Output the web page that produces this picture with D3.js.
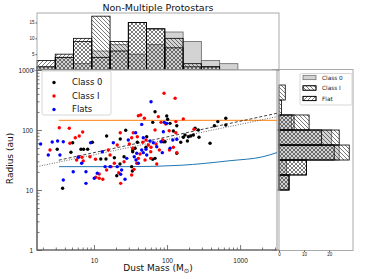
<!DOCTYPE html>
<html>
<head>
<meta charset="utf-8">
<script src="https://cdn.jsdelivr.net/npm/d3@7"></script>
<style>
  body { margin: 0; background: #fff; }
  svg { display: block; font-family: "DejaVu Sans", sans-serif; }
</style>
</head>
<body>
<div id="chart"></div>
<script>
// scatter points: [dust mass (Msun), radius (au)]
const class0Points = [[3.14,47.7],[4.84,42.5],[6.64,47.7],[7.22,47.7],[8.2,47.7],[5.11,61.4],[9.5,62.4],[14.9,79.4],[27.2,98.9],[22.9,70.8],[20.5,17.3],[14.6,32.9],[12.4,32.9],[19.0,34.5],[33.9,46.4],[36.5,49.5],[25.8,35.9],[22.7,27.1],[32.8,24.5],[3.72,10.7],[33.5,20.7],[68.5,202],[99,171],[63.7,134],[110,129],[136,118],[102,151],[242,107],[268,100],[176,82.5],[196,77.3],[211,79.4],[229,82.5],[274,75.5],[167,75.5],[190,65.6],[154,62.4],[122,96.2],[445,118],[495,138],[637,157],[637,121],[388,60],[89,63.8],[94,63.8],[51.5,51.5],[136,40.9],[68.5,33.7],[63.7,32.5],[33.9,43.5],[52.7,77.3],[39.2,62.4]];
const class1Points = [[3.35,109],[2.5,46.4],[4.69,60],[5.55,74.4],[6.29,79.4],[6.85,35.1],[5.79,31.6],[6.17,35.9],[7.13,30.4],[8.81,35.9],[10.5,32.5],[10.6,16.3],[11.8,15.7],[15.7,46.4],[16.6,38.3],[20.8,56.2],[22.9,90.2],[32.8,74.4],[30.5,58.4],[25.8,29.6],[21.8,19.4],[19.0,27.9],[17.1,24.5],[4.59,107],[7.0,92.6],[40.5,173],[38.5,27.9],[32.8,17.8],[35.3,22.1],[11.8,18.5],[13.2,15.1],[14.9,21.5],[23.2,12.9],[91,409],[129,338],[43.6,178],[48.9,157],[76,167],[82.8,134],[96,126],[132,138],[167,153],[234,103],[68.5,100],[107,97.3],[132,90.2],[34.5,90.2],[39.2,77.3],[46.5,62.4],[51.5,68.1],[55.5,56.2],[60.4,51.5],[70.7,58.4],[78.5,46.4],[108,46.4],[122,51.5],[136,41.9],[33.9,49.5],[50,31.6],[59.8,33.7],[72.3,27.1],[40.5,33.7],[87.3,68.1],[59.8,43.5],[42.7,39.8]];
const flatPoints = [[1.86,58.4],[2.68,63.1],[3.18,65.6],[3.8,63.8],[3.42,38.3],[2.37,38.3],[6.1,35.1],[9.0,61.4],[13.0,43.5],[14.2,24.5],[18.4,61.4],[16.6,24.5],[23.9,21.5],[28.1,33.7],[29.5,68.1],[38.5,40.9],[20.8,24.5],[11.1,19],[6.78,27.9],[3.8,14.7],[5.2,20.2],[7.77,20.2],[7.77,12.9],[10.1,15.7],[23.2,18.3],[26.6,15.1],[60.4,296],[45,124],[91.8,134],[99,129],[37.2,90.2],[89,93.7],[136,70],[47.3,74.4],[58.5,65.6],[64.9,61.4],[82.8,63.8],[120,68.1],[45,46.4],[47.3,41.9],[51.5,47.7],[35.6,35.9],[37.6,31.6],[40.5,27.9],[86.2,41.9],[110,49.5],[72.3,52.7],[52.7,38.3]];

// model / fit lines: [mass, radius]
const orangeLine = [[3.3,145],[3200,145]];
const blueCurve = [[3.32,24.5],[31,24.5],[151,25.8],[730,30.8],[2065,35.9],[3200,42]];
const dottedFit = [[1.66,24.5],[3200,167]];
const dashedFit = [[3.3,31.4],[3200,190]];

// top histogram (dust mass)
const massEdges = [1.66, 2.95, 5.25, 9.33, 16.6, 29.5, 52.5, 93.3, 166, 295, 525, 933];
const class0Mass = [1, 4, 2, 6, 8, 5, 8, 12, 9, 3, 2];
const class1Mass = [1, 4, 9, 17, 9, 15, 13, 10, 2, 1, 0];
const flatMass = [3, 5, 10, 4, 6, 15, 13, 7, 1, 1, 0];

// right histogram (radius)
const radiusEdges = [10, 17.8, 31.6, 56.2, 100, 178, 316, 562];
const class0Radius = [4, 3, 24, 21, 5, 0, 0];
const class1Radius = [4, 11, 28, 24, 12, 1, 2.5];
const flatRadius = [4, 11, 22, 17, 6, 0, 0];

const yMajor = [1, 10, 100, 1000];
const xMajor = [10, 100, 1000];
const topTicks = [0, 5, 10, 15];
const rightTicks = [0, 10, 20];

const W = 372, H = 279;
const svg = d3.select("#chart").append("svg").attr("width", W).attr("height", H);

const x = d3.scaleLog().domain([1.66, 3200]).range([37, 277]);
const y = d3.scaleLog().domain([1, 1000]).range([250, 70]);
const yTop = d3.scaleLinear().domain([0, 18]).range([70, 13]);
const xRight = d3.scaleLinear().domain([0, 29.5]).range([279, 353]);

// hatch patterns
const defs = svg.append("defs");
function hatch(id, d) {
  const p = defs.append("pattern").attr("id", id).attr("patternUnits", "userSpaceOnUse")
    .attr("width", 4).attr("height", 4);
  p.append("path").attr("d", d).attr("stroke", "#222").attr("stroke-width", 0.6).attr("fill", "none");
}
hatch("back", "M0,0L4,4M-1,3L1,5M3,-1L5,1");
hatch("fwd", "M0,4L4,0M-1,1L1,-1M3,5L5,3");
defs.append("clipPath").attr("id", "mainclip").append("rect")
  .attr("x", 37).attr("y", 70).attr("width", 240).attr("height", 180);

const styles = [
  { fill: "#d3d3d3", stroke: "#666" },
  { fill: "url(#back)", stroke: "#000" },
  { fill: "url(#fwd)", stroke: "#000" }
];

// ---- top histogram
const topG = svg.append("g");
[class0Mass, class1Mass, flatMass].forEach((counts, k) => {
  topG.append("g").selectAll("rect")
    .data(counts.map((c, i) => ({ c, i })).filter(d => d.c > 0))
    .join("rect")
    .attr("x", d => x(massEdges[d.i]))
    .attr("width", d => x(massEdges[d.i + 1]) - x(massEdges[d.i]))
    .attr("y", d => yTop(d.c))
    .attr("height", d => yTop(0) - yTop(d.c))
    .attr("fill", styles[k].fill)
    .attr("stroke", styles[k].stroke)
    .attr("stroke-width", 0.8);
});
topG.append("rect").attr("x", 37).attr("y", 13).attr("width", 242).attr("height", 57)
  .attr("fill", "none").attr("stroke", "#aaa").attr("stroke-width", 1);
const topAxis = topG.append("g").attr("transform", "translate(37,0)")
  .call(d3.axisLeft(yTop).tickValues(topTicks).tickSize(1.5).tickPadding(1));
topAxis.select(".domain").remove();
topAxis.selectAll("text").style("font-size", "4.5px").attr("fill", "#222");
topAxis.selectAll("line").attr("stroke", "#555");
topG.append("g").selectAll("line").data(xMajor).join("line")
  .attr("x1", d => x(d)).attr("x2", d => x(d)).attr("y1", 70).attr("y2", 76)
  .attr("stroke", "#555").attr("stroke-width", 0.8);

svg.append("text").attr("x", 158).attr("y", 11).attr("text-anchor", "middle")
  .style("font-size", "9.5px").attr("fill", "#111").text("Non-Multiple Protostars");

// ---- right histogram
const rightG = svg.append("g");
[class0Radius, class1Radius, flatRadius].forEach((counts, k) => {
  rightG.append("g").selectAll("rect")
    .data(counts.map((c, i) => ({ c, i })).filter(d => d.c > 0))
    .join("rect")
    .attr("x", xRight(0))
    .attr("width", d => xRight(d.c) - xRight(0))
    .attr("y", d => y(radiusEdges[d.i + 1]))
    .attr("height", d => y(radiusEdges[d.i]) - y(radiusEdges[d.i + 1]))
    .attr("fill", styles[k].fill)
    .attr("stroke", styles[k].stroke)
    .attr("stroke-width", 0.8);
});
rightG.append("rect").attr("x", 279).attr("y", 69.5).attr("width", 74).attr("height", 181)
  .attr("fill", "none").attr("stroke", "#aaa").attr("stroke-width", 1);
const rAxis = rightG.append("g").attr("transform", "translate(0,250.5)")
  .call(d3.axisBottom(xRight).tickValues(rightTicks).tickSize(1.5).tickPadding(1));
rAxis.select(".domain").remove();
rAxis.selectAll("text").style("font-size", "4.5px").attr("fill", "#222");
rAxis.selectAll("line").attr("stroke", "#555");
rightG.append("g").selectAll("line").data(yMajor).join("line")
  .attr("x1", 272).attr("x2", 279).attr("y1", d => y(d)).attr("y2", d => y(d))
  .attr("stroke", "#555").attr("stroke-width", 0.8);

// right legend
const rl = svg.append("g");
rl.append("rect").attr("x", 300).attr("y", 73.5).attr("width", 52).attr("height", 31.5)
  .attr("fill", "#fff").attr("stroke", "#ccc").attr("stroke-width", 0.8).attr("rx", 1.5);
["Class 0", "Class I", "Flat"].forEach((name, k) => {
  const cy = 77.5 + k * 10.5;
  rl.append("rect").attr("x", 303).attr("y", cy - 2.2).attr("width", 13).attr("height", 4.4)
    .attr("fill", k === 0 ? styles[0].fill : "#fff").attr("stroke", styles[k].stroke).attr("stroke-width", 0.7);
  if (k > 0) rl.append("rect").attr("x", 303).attr("y", cy - 2.2).attr("width", 13).attr("height", 4.4)
    .attr("fill", styles[k].fill).attr("stroke", "#000").attr("stroke-width", 0.7);
  rl.append("text").attr("x", 322).attr("y", cy).attr("dy", "0.35em")
    .style("font-size", "5.8px").attr("fill", "#222").text(name);
});

// ---- main scatter
const main = svg.append("g");
main.append("rect").attr("x", 37).attr("y", 70).attr("width", 240).attr("height", 180)
  .attr("fill", "#fff").attr("stroke", "#999").attr("stroke-width", 1);

const plot = main.append("g").attr("clip-path", "url(#mainclip)");
const line = d3.line().x(d => x(d[0])).y(d => y(d[1]));
plot.append("path").datum(orangeLine).attr("d", line).attr("fill", "none")
  .attr("stroke", "#ff7f0e").attr("stroke-width", 1);
plot.append("path").datum(blueCurve).attr("d", line.curve(d3.curveMonotoneX)).attr("fill", "none")
  .attr("stroke", "#1f77b4").attr("stroke-width", 1);
line.curve(d3.curveLinear);
plot.append("path").datum(dottedFit).attr("d", line).attr("fill", "none")
  .attr("stroke", "#444").attr("stroke-width", 0.8).attr("stroke-dasharray", "1,1.5");
plot.append("path").datum(dashedFit).attr("d", line).attr("fill", "none")
  .attr("stroke", "#111").attr("stroke-width", 0.8).attr("stroke-dasharray", "3,2");

[[class0Points, "#000"], [class1Points, "#ff0000"], [flatPoints, "#0000ff"]].forEach(([pts, col]) => {
  plot.append("g").selectAll("circle").data(pts).join("circle")
    .attr("cx", d => x(d[0])).attr("cy", d => y(d[1])).attr("r", 1.7).attr("fill", col);
});

// main axes (inward ticks)
const yMinor = [];
[1, 10, 100].forEach(b => { for (let m = 2; m <= 9; m++) yMinor.push(b * m); });
const xMinor = [];
[1, 10, 100, 1000].forEach(b => { for (let m = 2; m <= 9; m++) { const v = b * m; if (v > 1.66 && v < 3200) xMinor.push(v); } });

function styleAxis(g) {
  g.select(".domain").remove();
  g.selectAll("line").attr("stroke", "#555").attr("stroke-width", 0.8);
  g.selectAll("text").style("font-size", "6.5px").attr("fill", "#222");
}
main.append("g").attr("transform", "translate(37,0)")
  .call(d3.axisLeft(y).tickValues(yMajor).tickFormat(d3.format("d")).tickSize(-5).tickPadding(4)).call(styleAxis);
main.append("g").attr("transform", "translate(37,0)")
  .call(d3.axisLeft(y).tickValues(yMinor).tickFormat("").tickSize(-2.5)).call(styleAxis);
main.append("g").attr("transform", "translate(0,250)")
  .call(d3.axisBottom(x).tickValues(xMajor).tickFormat(d3.format("d")).tickSize(-5).tickPadding(8)).call(styleAxis);
main.append("g").attr("transform", "translate(0,250)")
  .call(d3.axisBottom(x).tickValues(xMinor).tickFormat("").tickSize(-2.5)).call(styleAxis);
main.append("path").attr("d", "M37,70V250H277").attr("fill", "none").attr("stroke", "#555").attr("stroke-width", 1.2);

// axis titles
const xt = svg.append("text").attr("x", 158).attr("y", 271).attr("text-anchor", "middle")
  .style("font-size", "9px").attr("fill", "#111");
xt.append("tspan").text("Dust Mass (M");
xt.append("tspan").attr("dy", 2).style("font-size", "6.5px").text("\u2299");
xt.append("tspan").attr("dy", -2).text(")");
svg.append("text").attr("transform", "translate(13,158.5) rotate(-90)").attr("text-anchor", "middle")
  .style("font-size", "9px").attr("fill", "#111").text("Radius (au)");

// main legend
const lg = svg.append("g");
lg.append("rect").attr("x", 42).attr("y", 71).attr("width", 69).attr("height", 44)
  .attr("fill", "#fff").attr("fill-opacity", 0.85).attr("stroke", "#ccc").attr("stroke-width", 0.8).attr("rx", 2);
[["Class 0", "#000"], ["Class I", "#ff0000"], ["Flats", "#0000ff"]].forEach(([name, col], k) => {
  const cy = 82.5 + k * 13.5;
  lg.append("circle").attr("cx", 54).attr("cy", cy).attr("r", 1.7).attr("fill", col);
  lg.append("text").attr("x", 72).attr("y", cy).attr("dy", "0.35em")
    .style("font-size", "8.5px").attr("fill", "#111").text(name);
});
</script>
</body>
</html>
